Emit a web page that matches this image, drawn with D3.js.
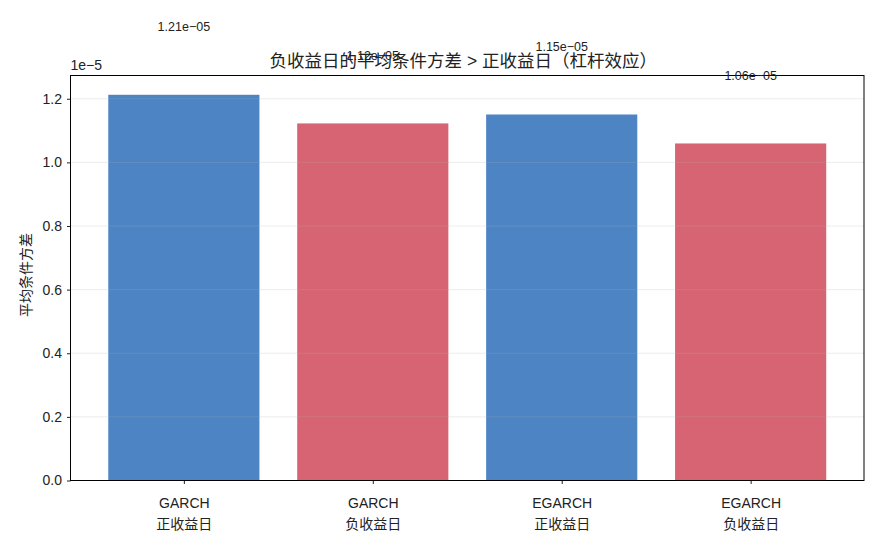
<!DOCTYPE html>
<html>
<head>
<meta charset="utf-8">
<script src="https://cdn.jsdelivr.net/npm/d3@7"></script>
<style>
  body { margin: 0; background: #fff; }
  svg text { font-family: "Liberation Sans", "Noto Sans CJK SC", sans-serif; fill: #222; }
</style>
</head>
<body>
<div id="chart"></div>
<script>
// categories (two lines per tick label)
const models = ["GARCH", "GARCH", "EGARCH", "EGARCH"];
const regimes = ["正收益日", "负收益日", "正收益日", "负收益日"];
// mean conditional variance, in units of 1e-5
const variances = [1.2125, 1.1225, 1.1505, 1.0595];
const labels = ["1.21e-05", "1.12e-05", "1.15e-05", "1.06e-05"];
const yTicks = [0.0, 0.2, 0.4, 0.6, 0.8, 1.0, 1.2];

const WIDTH = 880, HEIGHT = 550;
const margin = { top: 75.5, right: 16, bottom: 70, left: 70.5 };
const w = WIDTH - margin.left - margin.right,
  h = 480.5 - margin.top;

const colors = ["#4c84c4", "#d76472", "#4c84c4", "#d76472"];

const data = variances.map((v, i) => ({
  key: i, model: models[i], regime: regimes[i], value: v, label: labels[i]
}));

const svg = d3.select("#chart").append("svg")
  .attr("width", WIDTH).attr("height", HEIGHT);

const g = svg.append("g")
  .attr("transform", `translate(${margin.left}, ${margin.top})`);

// matplotlib-like: bar width 0.8, xlim -0.6..3.6
const x = d3.scaleLinear().domain([-0.6, data.length - 0.4]).range([0, w]);
const y = d3.scaleLinear().domain([0, d3.max(variances) * 1.05]).range([h, 0]);

// bars
g.selectAll(".bar")
  .data(data)
  .enter()
  .append("rect")
  .attr("class", "bar")
  .attr("x", d => x(d.key - 0.4))
  .attr("y", d => y(d.value))
  .attr("width", d => x(d.key + 0.4) - x(d.key - 0.4))
  .attr("height", d => h - y(d.value))
  .style("fill", (d, i) => colors[i]);

// grid on top of bars
g.append("g")
  .selectAll("line")
  .data(yTicks.slice(1))
  .enter()
  .append("line")
  .attr("x1", 0).attr("x2", w)
  .attr("y1", d => y(d)).attr("y2", d => y(d))
  .style("stroke", "#b0b0b0")
  .style("stroke-opacity", 0.3)
  .style("stroke-width", 0.8);

// y axis
const yAxis = g.append("g")
  .call(d3.axisLeft(y).tickValues(yTicks).tickFormat(d3.format(".1f")).tickSizeOuter(0).tickSize(3.5).tickPadding(5))
  .call(a => a.select(".domain").remove());
yAxis.selectAll("text").style("font-size", "14px");
yAxis.selectAll("line").style("stroke", "#222");

// x axis
const xAxis = g.append("g")
  .attr("transform", `translate(0, ${h})`)
  .call(d3.axisBottom(x).tickValues(data.map(d => d.key)).tickSize(3.5).tickFormat(""))
  .call(a => a.select(".domain").remove());
xAxis.selectAll("line").style("stroke", "#222");
xAxis.selectAll(".tick").each(function(d) {
  const t = d3.select(this).append("text")
    .attr("text-anchor", "middle")
    .style("font-size", "14px")
    .style("fill", "#222");
  t.append("tspan").attr("x", 0).attr("y", 27).text(models[d]);
  t.append("tspan").attr("x", 0).attr("y", 48).text(regimes[d]);
});

// frame
g.append("rect")
  .attr("width", w).attr("height", h)
  .style("fill", "none")
  .style("stroke", "#000")
  .style("stroke-width", 1);

// offset text
g.append("text")
  .attr("x", 0).attr("y", -6)
  .style("font-size", "14px")
  .text("1e\u22125");

// title
g.append("text")
  .attr("x", w / 2 - 4).attr("y", -9)
  .attr("text-anchor", "middle")
  .style("font-size", "17.5px")
  .text("负收益日的平均条件方差 > 正收益日（杠杆效应）");

// y label
g.append("text")
  .attr("transform", `translate(-40, ${h / 2 - 3}) rotate(-90)`)
  .attr("text-anchor", "middle")
  .style("font-size", "14px")
  .text("平均条件方差");

// value labels (placed 0.2e-5 above bar in data units)
g.selectAll(".vlbl")
  .data(data)
  .enter()
  .append("text")
  .attr("class", "vlbl")
  .attr("x", d => x(d.key))
  .attr("y", d => y(d.value + 0.2))
  .attr("text-anchor", "middle")
  .style("font-size", "12.5px")
  .text(d => d.label.replace("-", "\u2212"));
</script>
</body>
</html>
